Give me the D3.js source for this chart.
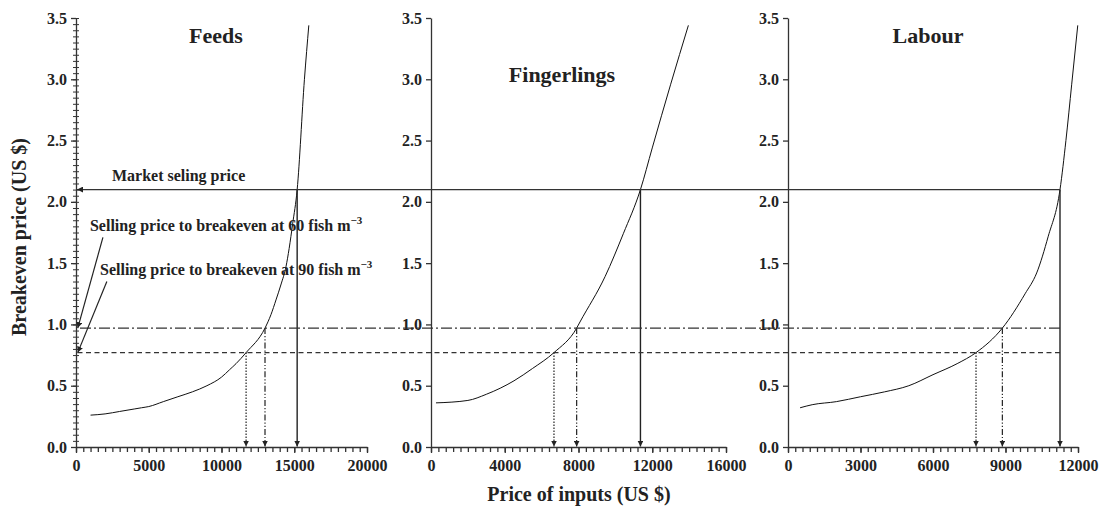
<!DOCTYPE html>
<meta charset="utf-8">
<style>
body { margin: 0; background: #fff; }
svg text { font-family: "Liberation Serif", "Times New Roman", serif; font-weight: bold; fill: #222; }
.axis path, .axis line { stroke: #333; stroke-width: 1.3px; }
.axis text { font-size: 16px; }
</style>
<svg width="1101" height="508"></svg>
<script src="https://d3js.org/d3.v7.min.js"></script>
<script>

// price of input (US $) -> breakeven price (US $)
var feedsCost  = [1000, 2000, 3000, 4000, 4500, 5000, 6000, 7000, 8000, 9000, 10000, 10550, 11000, 11690, 12990, 13400, 13745, 14100, 14430, 14650, 14890, 15200, 15700, 16000]
var feedsPrice = [0.26, 0.27, 0.29, 0.31, 0.32, 0.33, 0.37, 0.41, 0.45, 0.50, 0.57, 0.63, 0.68, 0.77, 0.97, 1.08, 1.20, 1.33, 1.47, 1.62, 1.82, 2.10, 3.00, 3.44]

var fingCost  = [270, 2000, 3000, 4500, 5500, 6670, 7900, 8080, 9440, 10430, 11360, 12000, 13000, 13960]
var fingPrice = [0.36, 0.38, 0.43, 0.54, 0.64, 0.77, 0.97, 1.02, 1.39, 1.74, 2.10, 2.44, 2.96, 3.44]

var labourCost  = [500, 1000, 2000, 3000, 4000, 5000, 6000, 7000, 7780, 8870, 9810, 10290, 10770, 11255, 11500, 11740, 11990]
var labourPrice = [0.32, 0.345, 0.37, 0.41, 0.45, 0.50, 0.59, 0.68, 0.77, 0.97, 1.25, 1.42, 1.72, 2.10, 2.50, 2.96, 3.44]

// breakeven levels: 90 fish, 60 fish, market price
var levels = [0.77, 0.97, 2.1]
var feedsCross  = [11690, 12990, 15200]
var fingCross   = [6670, 7900, 11360]
var labourCross = [7780, 8870, 11255]

var feedsTicks  = [0, 5000, 10000, 15000, 20000]
var fingTicks   = [0, 4000, 8000, 12000, 16000]
var labourTicks = [0, 3000, 6000, 9000, 12000]
var priceTicks  = [0, 0.5, 1.0, 1.5, 2.0, 2.5, 3.0, 3.5]

var serif = '"Liberation Serif", "Times New Roman", serif'
var svg = d3.select('svg')
var yTop = 18, yBot = 447

var panels = [
	{ title: 'Feeds', cost: feedsCost, price: feedsPrice, cross: feedsCross, ticks: feedsTicks, minor: 500,
	  left: 76, right: 367, tx: 216, ty: 43, yMinor: true },
	{ title: 'Fingerlings', cost: fingCost, price: fingPrice, cross: fingCross, ticks: fingTicks, minor: 400,
	  left: 431, right: 726, tx: 562, ty: 82, yMinor: false },
	{ title: 'Labour', cost: labourCost, price: labourPrice, cross: labourCross, ticks: labourTicks, minor: 300,
	  left: 788, right: 1078, tx: 928, ty: 43, yMinor: false }
]

var y = d3.scaleLinear().domain([0, 3.5]).range([yBot, yTop])

var defs = svg.append('defs')
defs.append('marker')
	.attr('id', 'arr')
	.attr('viewBox', '0 0 10 10')
	.attr('refX', 10).attr('refY', 5)
	.attr('markerWidth', 6).attr('markerHeight', 6)
	.attr('markerUnits', 'userSpaceOnUse')
	.attr('orient', 'auto')
	.append('path').attr('d', 'M0,0 L10,5 L0,10 Z').attr('fill', '#222')

panels.forEach(function (p) {
	var dom = p.ticks[p.ticks.length - 1]
	p.x = d3.scaleLinear().domain([0, dom]).range([p.left, p.right])

	// minor x ticks
	svg.append('g').attr('class', 'axis')
		.attr('transform', 'translate(0,' + yBot + ')')
		.call(d3.axisBottom(p.x).tickValues(d3.range(0, dom + 1, p.minor)).tickSize(5).tickSizeOuter(0).tickFormat(''))
		.select('.domain').remove()
	svg.append('g').attr('class', 'axis')
		.attr('transform', 'translate(0,' + yBot + ')')
		.call(d3.axisBottom(p.x).tickValues(p.ticks).tickSize(6).tickSizeOuter(0).tickPadding(7).tickFormat(d3.format('d')))
		.attr('font-family', serif).attr('font-size', 16)

	if (p.yMinor) {
		var ym = svg.append('g').attr('class', 'axis')
			.attr('transform', 'translate(' + p.left + ',0)')
			.call(d3.axisLeft(y).tickValues(d3.range(0, 3.501, 0.05)).tickSize(3).tickFormat(''))
		ym.select('.domain').remove()
		ym.selectAll('line').attr('x1', 3).attr('x2', -3).style('stroke-width', 1)
	}
	svg.append('g').attr('class', 'axis')
		.attr('transform', 'translate(' + p.left + ',0)')
		.call(d3.axisLeft(y).tickValues(priceTicks).tickSize(5).tickSizeOuter(0).tickPadding(4).tickFormat(d3.format('.1f')))
		.attr('font-family', serif).attr('font-size', 16)

	svg.append('text')
		.attr('x', p.tx).attr('y', p.ty)
		.attr('text-anchor', 'middle')
		.style('font-size', '22px')
		.text(p.title)

	var line = d3.line()
		.x(function (d) { return p.x(d[0]) })
		.y(function (d) { return y(d[1]) })
		.curve(d3.curveMonotoneX)
	svg.append('path')
		.datum(d3.zip(p.cost, p.price))
		.attr('d', line)
		.attr('fill', 'none')
		.attr('stroke', '#111')
		.attr('stroke-width', 1)

	// drop lines to the x axis
	var dropDash = ['1.5,1.5', '6,2,1.2,2,1.2,2', null]
	p.cross.forEach(function (c, i) {
		svg.append('line')
			.attr('x1', p.x(c)).attr('x2', p.x(c))
			.attr('y1', y(levels[i])).attr('y2', yBot - 0.5)
			.attr('stroke', '#222')
			.attr('stroke-width', i === 2 ? 1.4 : 1.2)
			.attr('stroke-dasharray', dropDash[i])
			.attr('marker-end', 'url(#arr)')
	})
})

// horizontal reference lines running across all three panels
var p1 = panels[0], p3 = panels[2]
var hDash = ['5,3.5', '11,3,2,3', null]
levels.forEach(function (v, i) {
	var hl = svg.append('line')
		.attr('x1', p3.x(p3.cross[2])).attr('x2', p1.x(0) + 1)
		.attr('y1', y(v)).attr('y2', y(v))
		.attr('stroke', '#333')
		.attr('stroke-width', 1.3)
		.attr('stroke-dasharray', hDash[i])
	if (i === 2) hl.attr('marker-end', 'url(#arr)')
})

// annotations on the feeds panel
var x1 = p1.x
svg.append('text').attr('x', x1(2470)).attr('y', y(2.17)).style('font-size', '16px').text('Market seling price')

var notes = [
	{ fish: 60, tx: 960, ty: 1.76, ax: 1850, ay: 1.71, lv: levels[1] },
	{ fish: 90, tx: 1650, ty: 1.40, ax: 2120, ay: 1.35, lv: levels[0] }
]
notes.forEach(function (n) {
	var t = svg.append('text').attr('x', x1(n.tx)).attr('y', y(n.ty)).style('font-size', '16px')
	t.append('tspan').text('Selling price to breakeven at ' + n.fish + ' fish m')
	t.append('tspan').attr('dy', -7).style('font-size', '11px').text('\u22123')
	svg.append('line')
		.attr('x1', x1(n.ax)).attr('y1', y(n.ay))
		.attr('x2', x1(120)).attr('y2', y(n.lv))
		.attr('stroke', '#222').attr('stroke-width', 1.2)
		.attr('marker-end', 'url(#arr)')
})

// axis titles
svg.append('text')
	.attr('transform', 'translate(26,237) rotate(-90)')
	.attr('text-anchor', 'middle')
	.style('font-size', '20px')
	.text('Breakeven price (US $)')

svg.append('text')
	.attr('x', 579).attr('y', 501)
	.attr('text-anchor', 'middle')
	.style('font-size', '20px')
	.text('Price of inputs (US $)')

</script>
